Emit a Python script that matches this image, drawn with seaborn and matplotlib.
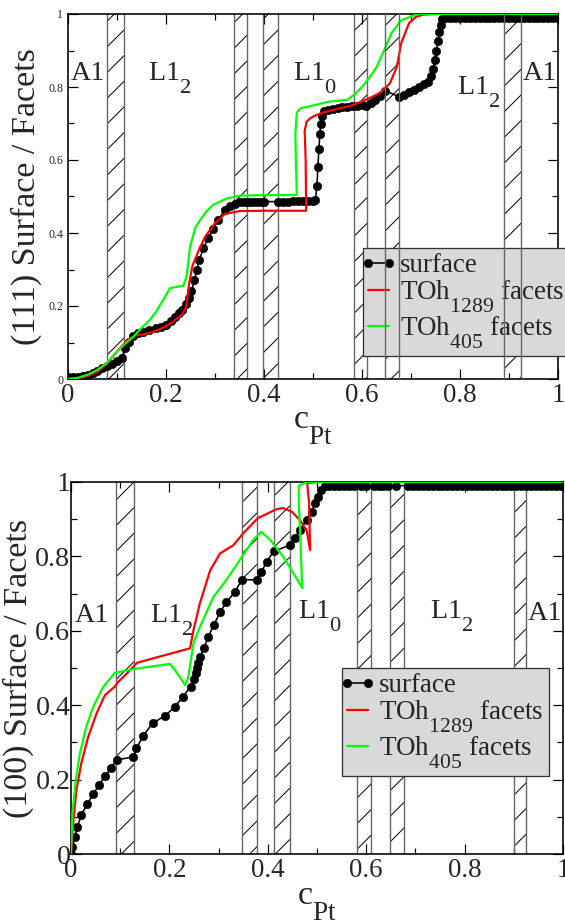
import matplotlib
matplotlib.use("Agg")
import matplotlib.pyplot as plt
import matplotlib._mathtext as _mt
import seaborn as sns
from matplotlib.ticker import MultipleLocator, FuncFormatter
from matplotlib.legend_handler import HandlerLine2D
from matplotlib.lines import Line2D

# ---------------- data ----------------
# (111) panel
top_surf_c = [0.000, 0.010, 0.020, 0.030, 0.040, 0.050, 0.060, 0.070, 0.080, 0.090,
              0.100, 0.110, 0.116, 0.124, 0.133, 0.143, 0.153, 0.165, 0.180, 0.190,
              0.200, 0.210, 0.218, 0.226, 0.232, 0.240, 0.246, 0.252, 0.258, 0.263,
              0.268, 0.276, 0.286, 0.296, 0.306, 0.320, 0.330, 0.340, 0.350, 0.360,
              0.368, 0.376, 0.384, 0.392, 0.400, 0.428, 0.439, 0.449, 0.459, 0.470,
              0.480, 0.490, 0.500, 0.505, 0.508, 0.510, 0.512, 0.514, 0.516, 0.519,
              0.523, 0.530, 0.540, 0.550, 0.560, 0.570, 0.580, 0.590, 0.600, 0.608,
              0.618, 0.627, 0.637, 0.647, 0.676, 0.686, 0.696, 0.706, 0.716, 0.726,
              0.734, 0.740, 0.745, 0.749, 0.752, 0.755, 0.758, 0.761, 0.764, 0.770,
              0.780, 0.790, 0.800, 0.810, 0.820, 0.830, 0.840, 0.850, 0.860, 0.870,
              0.880, 0.890, 0.900, 0.910, 0.920, 0.930, 0.940, 0.950, 0.960, 0.970,
              0.980, 0.990, 1.000]
top_surf_v = [0.005, 0.005, 0.006, 0.008, 0.011, 0.016, 0.022, 0.030, 0.036, 0.042,
              0.048, 0.057, 0.085, 0.102, 0.118, 0.125, 0.130, 0.133, 0.140, 0.143,
              0.148, 0.158, 0.170, 0.180, 0.190, 0.205, 0.222, 0.240, 0.270, 0.300,
              0.325, 0.358, 0.385, 0.410, 0.435, 0.463, 0.474, 0.480, 0.484, 0.485,
              0.486, 0.486, 0.486, 0.486, 0.486, 0.486, 0.486, 0.486, 0.487, 0.487,
              0.488, 0.488, 0.489, 0.490, 0.530, 0.580, 0.630, 0.670, 0.700, 0.720,
              0.735, 0.738, 0.740, 0.742, 0.744, 0.745, 0.747, 0.748, 0.750, 0.748,
              0.755, 0.764, 0.775, 0.790, 0.773, 0.778, 0.785, 0.792, 0.799, 0.807,
              0.815, 0.830, 0.850, 0.875, 0.900, 0.925, 0.950, 0.970, 0.985, 0.990,
              0.990, 0.990, 0.990, 0.990, 0.990, 0.990, 0.990, 0.990, 0.990, 0.990,
              0.990, 0.990, 0.990, 0.990, 0.990, 0.990, 0.990, 0.990, 0.990, 0.990,
              0.990, 0.990, 0.990]

top_1289_c = [0.000, 0.020, 0.040, 0.060, 0.080, 0.100, 0.112, 0.125, 0.140, 0.153,
              0.170, 0.185, 0.200, 0.215, 0.232, 0.241, 0.247, 0.254, 0.267, 0.280,
              0.300, 0.320, 0.350, 0.400, 0.450, 0.486, 0.485, 0.483, 0.487, 0.495,
              0.505, 0.520, 0.550, 0.580, 0.608, 0.636, 0.657, 0.671, 0.680, 0.696,
              0.710, 0.724, 0.750, 1.000]
top_1289_v = [0.000, 0.002, 0.008, 0.020, 0.042, 0.075, 0.093, 0.110, 0.120, 0.122,
              0.128, 0.135, 0.145, 0.158, 0.175, 0.197, 0.260, 0.310, 0.353, 0.390,
              0.427, 0.452, 0.460, 0.461, 0.461, 0.461, 0.600, 0.680, 0.705, 0.715,
              0.722, 0.730, 0.740, 0.750, 0.765, 0.783, 0.810, 0.855, 0.920, 0.975,
              0.992, 0.998, 1.000, 1.000]

top_405_c = [0.000, 0.020, 0.040, 0.060, 0.080, 0.100, 0.115, 0.133, 0.150, 0.167,
             0.180, 0.194, 0.208, 0.220, 0.235, 0.242, 0.249, 0.260, 0.270, 0.283,
             0.297, 0.325, 0.350, 0.400, 0.467, 0.465, 0.464, 0.467, 0.475, 0.490,
             0.533, 0.570, 0.585, 0.600, 0.615, 0.630, 0.645, 0.660, 0.680, 0.714,
             1.000]
top_405_v = [0.000, 0.003, 0.012, 0.025, 0.045, 0.075, 0.095, 0.115, 0.140, 0.162,
             0.185, 0.216, 0.249, 0.252, 0.255, 0.280, 0.362, 0.415, 0.436, 0.460,
             0.478, 0.495, 0.502, 0.504, 0.504, 0.600, 0.674, 0.730, 0.742, 0.746,
             0.760, 0.765, 0.780, 0.800, 0.825, 0.855, 0.900, 0.947, 0.983, 1.000,
             1.000]

# (100) panel
bot_surf_c = [0.000, 0.003, 0.008, 0.013, 0.021, 0.033, 0.045, 0.057, 0.069, 0.081,
              0.093, 0.127, 0.133, 0.147, 0.166, 0.192, 0.211, 0.228, 0.243, 0.250,
              0.254, 0.257, 0.259, 0.262, 0.270, 0.279, 0.290, 0.303, 0.316, 0.333,
              0.347, 0.379, 0.387, 0.398, 0.412, 0.445, 0.455, 0.465, 0.479, 0.489,
              0.496, 0.503, 0.509, 0.516, 0.525, 0.535, 0.545, 0.555, 0.565, 0.575,
              0.590, 0.600, 0.615, 0.625, 0.635, 0.645, 0.660, 0.685, 0.695, 0.705,
              0.715, 0.725, 0.735, 0.745, 0.755, 0.765, 0.775, 0.785, 0.795, 0.805,
              0.815, 0.825, 0.835, 0.845, 0.855, 0.865, 0.875, 0.885, 0.895, 0.905,
              0.915, 0.925, 0.935, 0.945, 0.955, 0.965, 0.975, 0.985, 0.995, 1.000]
bot_surf_v = [0.000, 0.020, 0.046, 0.073, 0.105, 0.134, 0.161, 0.185, 0.210, 0.230,
              0.253, 0.261, 0.284, 0.318, 0.352, 0.372, 0.396, 0.423, 0.450, 0.470,
              0.486, 0.500, 0.513, 0.530, 0.553, 0.584, 0.615, 0.650, 0.677, 0.704,
              0.737, 0.737, 0.759, 0.786, 0.814, 0.830, 0.850, 0.871, 0.898, 0.920,
              0.943, 0.960, 0.978, 0.990, 0.990, 0.990, 0.990, 0.990, 0.990, 0.990,
              0.990, 0.990, 0.990, 0.990, 0.990, 0.990, 0.990, 0.990, 0.990, 0.990,
              0.990, 0.990, 0.990, 0.990, 0.990, 0.990, 0.990, 0.990, 0.990, 0.990,
              0.990, 0.990, 0.990, 0.990, 0.990, 0.990, 0.990, 0.990, 0.990, 0.990,
              0.990, 0.990, 0.990, 0.990, 0.990, 0.990, 0.990, 0.990, 0.990, 0.990]

bot_1289_c = [0.000, 0.005, 0.011, 0.021, 0.035, 0.052, 0.069, 0.089, 0.094, 0.114,
              0.134, 0.242, 0.249, 0.262, 0.283, 0.303, 0.330, 0.350, 0.380, 0.418,
              0.431, 0.449, 0.465, 0.479, 0.486, 0.484, 0.480, 0.500, 1.000]
bot_1289_v = [0.000, 0.090, 0.172, 0.244, 0.315, 0.378, 0.427, 0.450, 0.460, 0.486,
              0.514, 0.553, 0.602, 0.674, 0.763, 0.808, 0.830, 0.862, 0.903, 0.927,
              0.930, 0.920, 0.898, 0.870, 0.817, 0.943, 0.997, 1.000, 1.000]

bot_405_c = [0.000, 0.003, 0.010, 0.018, 0.031, 0.045, 0.062, 0.066, 0.089, 0.127,
             0.201, 0.211, 0.232, 0.238, 0.249, 0.262, 0.289, 0.316, 0.343, 0.370,
             0.387, 0.405, 0.431, 0.452, 0.470, 0.466, 0.463, 0.463, 0.480, 1.000]
bot_405_v = [0.000, 0.110, 0.200, 0.270, 0.342, 0.395, 0.440, 0.450, 0.487, 0.497,
             0.511, 0.495, 0.454, 0.473, 0.567, 0.610, 0.690, 0.737, 0.790, 0.844,
             0.866, 0.844, 0.800, 0.755, 0.715, 0.853, 0.943, 0.990, 1.000, 1.000]

# two-phase (hatched) regions
top_bands = [(0.080, 0.114), (0.339, 0.365), (0.397, 0.428),
             (0.584, 0.610), (0.647, 0.676), (0.890, 0.924)]
bot_bands = [(0.091, 0.128), (0.347, 0.378), (0.413, 0.445),
             (0.581, 0.610), (0.648, 0.677), (0.900, 0.925)]

phase_names = ["A1", r"L1$_2$", r"L1$_0$", r"L1$_2$", "A1"]
series_names = ["surface", r"TOh$_{1289}$ facets", r"TOh$_{405}$ facets"]
ylabels = ["(111) Surface / Facets", "(100) Surface / Facets"]
xlabel = r"c$_{\mathrm{Pt}}$"

# ---------------- style ----------------
DPI = 77
PX = 72.0 / DPI          # points per pixel

# larger, lower subscripts (as in the original xmgrace output)
_mt.SHRINK_FACTOR = 0.80
_mt.FontConstantsBase.sub1 = 1.0

sns.set_style("ticks")
plt.rcParams["font.family"] = ["Liberation Serif", "DejaVu Serif"]
plt.rcParams["mathtext.fontset"] = "custom"
plt.rcParams["mathtext.rm"] = "Liberation Serif"
plt.rcParams["mathtext.it"] = "Liberation Serif:italic"
plt.rcParams["mathtext.bf"] = "Liberation Serif:bold"
plt.rcParams["hatch.linewidth"] = 1.0 * PX
plt.rcParams["hatch.color"] = "black"

fig = plt.figure(figsize=(565 / DPI, 921 / DPI), dpi=DPI)
ax1 = fig.add_axes([68 / 565, 1 - 379 / 921, 490 / 565, 365 / 921])
ax2 = fig.add_axes([71 / 565, 1 - 854 / 921, 492 / 565, 372 / 921])

RED = "#ff0000"
GREEN = "#00ff00"


def fmt(v, pos):
    return "%g" % round(v, 2)


def draw_panel(ax, surf_c, surf_v, c1289, v1289, c405, v405, bands,
               phase_pos, ylabel, ytick_px, ylab_x, leg_anchor, front_after):
    for (a, b) in bands:
        ax.axvspan(a, b, facecolor="none", edgecolor="black", linewidth=0,
                   hatch="/", zorder=1)
        for xe in (a, b):
            z = 6 if (front_after is not None and xe > front_after) else 1.5
            ax.axvline(xe, color="#666666", lw=1.4 * PX, zorder=z)

    sns.lineplot(x=surf_c, y=surf_v, ax=ax, sort=False, estimator=None,
                 color="black", lw=1.6 * PX, marker="o", markersize=8.5 * PX,
                 markeredgecolor="black", markeredgewidth=0.5 * PX,
                 label=series_names[0], zorder=3)
    sns.lineplot(x=c1289, y=v1289, ax=ax, sort=False, estimator=None,
                 color=RED, lw=2.2 * PX, label=series_names[1], zorder=4)
    sns.lineplot(x=c405, y=v405, ax=ax, sort=False, estimator=None,
                 color=GREEN, lw=2.2 * PX, label=series_names[2], zorder=4)

    for name, (px_, py_) in zip(phase_names, phase_pos):
        ax.text(px_, py_, name, fontsize=28 * PX, ha="left", va="baseline",
                zorder=2)

    ax.set_xlim(0, 1)
    ax.set_ylim(0, 1)
    ax.xaxis.set_major_locator(MultipleLocator(0.2))
    ax.xaxis.set_minor_locator(MultipleLocator(0.1))
    ax.yaxis.set_major_locator(MultipleLocator(0.2))
    ax.yaxis.set_minor_locator(MultipleLocator(0.1))
    ax.xaxis.set_major_formatter(FuncFormatter(fmt))
    ax.yaxis.set_major_formatter(FuncFormatter(fmt))
    ax.tick_params(which="both", direction="in", top=True, right=True,
                   width=1.2 * PX, color="black")
    ax.tick_params(which="major", length=10 * PX)
    ax.tick_params(which="minor", length=6 * PX)
    ax.tick_params(axis="x", labelsize=27 * PX, pad=4 * PX)
    ax.tick_params(axis="y", labelsize=ytick_px * PX,
                   pad=(5 if ytick_px < 20 else 0.5) * PX)
    for sp in ax.spines.values():
        sp.set_linewidth(1.6 * PX)
        sp.set_color("black")

    ax.set_ylabel(ylabel, fontsize=34 * PX)
    ax.yaxis.set_label_coords(ylab_x, 0.5)
    ax.set_xlabel(xlabel, fontsize=34 * PX)
    ax.xaxis.set_label_coords(0.5, -0.085)

    leg = ax.legend(loc="upper left", bbox_to_anchor=leg_anchor,
                    borderaxespad=0, handlelength=0.78,
                    handler_map={Line2D: HandlerLine2D(numpoints=2, marker_pad=0.0)},
                    handletextpad=0.4, labelspacing=0.0, borderpad=0.2,
                    frameon=True, fancybox=False, framealpha=1,
                    facecolor="#d9d9d9", edgecolor="#333333",
                    fontsize=27 * PX)
    leg.get_frame().set_linewidth(1.3 * PX)
    leg.set_zorder(5)


draw_panel(ax1, top_surf_c, top_surf_v, top_1289_c, top_1289_v,
           top_405_c, top_405_v, top_bands,
           [(0.006, 0.82), (0.163, 0.82), (0.46, 0.82), (0.794, 0.78), (0.927, 0.82)],
           ylabels[0], 12, -0.053, ((363 - 68) / 490, (379 - 248) / 365), 0.62)
draw_panel(ax2, bot_surf_c, bot_surf_v, bot_1289_c, bot_1289_v,
           bot_405_c, bot_405_v, bot_bands,
           [(0.008, 0.624), (0.16, 0.624), (0.461, 0.634), (0.73, 0.634), (0.929, 0.63)],
           ylabels[1], 28, -0.075, ((342 - 71) / 492, (854 - 668) / 372), None)

fig.savefig("out.png", dpi=DPI)
